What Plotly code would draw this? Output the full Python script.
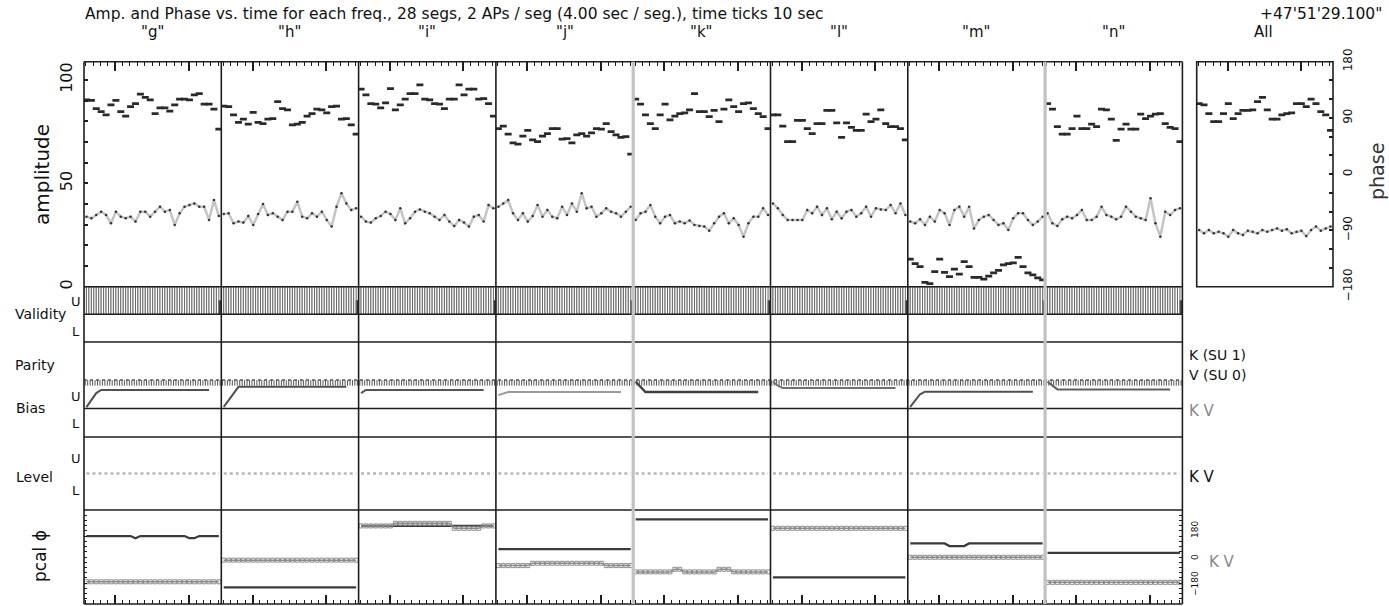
import plotly.graph_objects as go

W, H = 1389, 606
FONT = "DejaVu Sans"

# ---------------- data ----------------
CHANNELS = ['"g"', '"h"', '"i"', '"j"', '"k"', '"l"', '"m"', '"n"']
SEG_TIMES = [2, 6, 10, 14, 18, 22, 26, 30, 34, 38, 42, 46, 50, 54, 58, 62, 66, 70, 74, 78,
             82, 86, 90, 94, 98, 102, 106, 110]
AP_TIMES = [1, 3, 5, 7, 9, 11, 13, 15, 17, 19, 21, 23, 25, 27, 29, 31, 33, 35, 37, 39, 41, 43,
            45, 47, 49, 51, 53, 55, 57, 59, 61, 63, 65, 67, 69, 71, 73, 75, 77, 79, 81, 83, 85,
            87, 89, 91, 93, 95, 97, 99, 101, 103, 105, 107, 109, 111]

AMP_G = [33.9, 33.1, 34.7, 36.3, 34.7, 30.7, 36.3, 33.9, 33.1, 33.9, 31.5, 36.3, 36.3, 33.9,
         36.3, 38.7, 36.3, 37.1, 29.9, 35.5, 38.7, 39.5, 40.3, 38.7, 38.7, 32.3, 41.9, 34.2]
AMP_H = [35.2, 35.5, 30.7, 31.5, 31.0, 34.2, 29.9, 35.2, 40.0, 34.7, 35.5, 33.9, 32.3, 36.3,
         36.3, 41.1, 33.9, 33.1, 35.5, 33.9, 36.3, 32.3, 29.1, 38.7, 45.2, 40.3, 37.1, 37.9]
AMP_I = [33.9, 31.5, 31.0, 33.1, 34.2, 36.3, 35.2, 32.3, 37.9, 30.7, 33.1, 36.3, 37.4, 36.3,
         35.5, 33.9, 32.3, 34.7, 31.5, 29.4, 32.3, 31.0, 29.1, 33.9, 34.7, 31.5, 39.5, 37.9]
AMP_J = [38.7, 40.3, 41.9, 35.5, 32.3, 35.5, 31.5, 34.2, 39.5, 33.9, 37.1, 33.9, 33.1, 38.7,
         34.7, 40.3, 36.3, 45.2, 37.9, 38.7, 33.9, 35.5, 37.9, 36.3, 35.5, 33.9, 36.3, 38.7]
AMP_K = [32.3, 35.5, 36.3, 39.5, 33.9, 30.7, 33.9, 34.7, 30.7, 31.5, 30.7, 32.0, 29.9, 29.4,
         29.1, 27.1, 30.7, 33.9, 35.5, 30.7, 33.1, 29.9, 24.2, 30.7, 33.9, 33.9, 37.9, 34.7]
AMP_L = [40.3, 37.9, 34.7, 32.3, 32.3, 32.3, 32.3, 37.1, 35.5, 38.7, 34.7, 37.9, 32.6, 36.3,
         33.1, 36.3, 37.1, 33.9, 35.5, 38.7, 33.9, 37.9, 37.4, 37.1, 39.5, 35.5, 40.3, 34.7]
AMP_M = [31.5, 30.7, 32.6, 29.9, 33.9, 31.5, 37.1, 35.5, 29.9, 37.1, 38.7, 33.9, 38.7, 28.2,
         32.3, 33.9, 34.7, 32.3, 29.9, 30.7, 27.4, 33.1, 35.5, 35.5, 32.3, 29.9, 31.5, 33.9]
AMP_N = [35.5, 30.7, 29.4, 32.6, 33.9, 33.1, 34.7, 37.1, 32.3, 32.3, 33.9, 38.7, 34.7, 33.9,
         32.6, 33.9, 38.7, 36.3, 33.9, 33.1, 32.3, 42.8, 30.7, 24.2, 36.3, 34.7, 37.1, 37.9]
AMP_ALL = [27.4, 25.8, 27.4, 25.8, 26.6, 25.8, 24.2, 27.4, 25.8, 25.0, 27.1, 26.6, 25.8, 27.4,
           26.6, 27.4, 28.2, 27.1, 27.8, 25.8, 26.6, 27.1, 24.5, 27.4, 29.1, 27.1, 28.2, 29.1]

PHASE_G = [119, 118, 105, 100, 95, 111, 118, 100, 93, 108, 113, 128, 123, 119, 97, 106, 106,
           101, 111, 120, 120, 119, 127, 129, 112, 112, 104, 72]
PHASE_H = [109, 108, 95, 83, 88, 80, 99, 83, 81, 88, 89, 116, 105, 103, 79, 80, 83, 93, 97,
           104, 103, 98, 108, 109, 88, 89, 79, 64]
PHASE_I = [136, 127, 113, 112, 106, 114, 137, 103, 111, 120, 129, 129, 143, 120, 119, 113, 112,
           105, 120, 120, 143, 127, 136, 136, 120, 121, 113, 93]
PHASE_J = [73, 77, 64, 50, 48, 61, 70, 55, 52, 61, 65, 73, 73, 56, 57, 50, 63, 65, 61, 66, 73,
           72, 81, 68, 63, 59, 60, 32]
PHASE_K = [120, 112, 95, 81, 73, 95, 112, 87, 93, 97, 98, 103, 129, 100, 100, 92, 102, 84, 104,
           119, 108, 100, 113, 114, 105, 97, 92, 73]
PHASE_L = [95, 95, 77, 52, 52, 86, 86, 73, 65, 81, 81, 102, 102, 82, 59, 82, 75, 70, 70, 96, 84,
           88, 103, 81, 76, 76, 73, 55]
PHASE_M = [-136, -143, -148, -173, -175, -156, -136, -157, -164, -152, -160, -140, -148, -165,
           -165, -168, -163, -158, -154, -145, -143, -142, -133, -148, -158, -161, -166, -169]
PHASE_N = [113, 104, 76, 64, 64, 73, 93, 73, 73, 80, 76, 104, 103, 88, 54, 72, 80, 72, 72, 96,
           89, 93, 96, 97, 81, 75, 73, 52]
PHASE_ALL = [113, 111, 97, 84, 84, 97, 113, 89, 97, 102, 102, 103, 116, 123, 103, 88, 88, 95,
             97, 98, 113, 113, 108, 120, 113, 100, 95, 70]

# validity per AP (1 = valid, last AP partial)
VALIDITY = [1, 1, 1, 1, 1, 1, 1, 1, 1, 1, 1, 1, 1, 1, 1, 1, 1, 1, 1, 1, 1, 1, 1, 1, 1, 1, 1, 1,
            1, 1, 1, 1, 1, 1, 1, 1, 1, 1, 1, 1, 1, 1, 1, 1, 1, 1, 1, 1, 1, 1, 1, 1, 1, 1, 1, 0.5]

# bias (U = +1, L = -1)
BIAS_K = [0.9, 0.9, 0.9, 0.9, 0.9, 0.9, 0.9, 0.9, 0.9, 0.9, 0.9, 0.9, 0.9, 0.9, 0.9, 0.9, 0.9,
          0.9, 0.9, 0.9, 0.9, 0.9, 0.9, 0.9, 0.9, 0.9, 0.9, 0.9, 0.9, 0.9, 0.9, 0.9, 0.9, 0.9,
          0.9, 0.9, 0.9, 0.9, 0.9, 0.9, 0.9, 0.9, 0.9, 0.9, 0.9, 0.9, 0.9, 0.9, 0.9, 0.9, 0.9,
          0.9, 0.9, 0.9, 0.9, 0.9]
BIAS_V_G = [0.05, 0.30, 0.54, 0.65, 0.65, 0.65, 0.65, 0.65, 0.65, 0.65, 0.65, 0.65, 0.65, 0.65,
            0.65, 0.65, 0.65, 0.65, 0.65, 0.65, 0.65, 0.65, 0.65, 0.65, 0.65, 0.65, None, None]
BIAS_V_H = [0.06, 0.30, 0.55, 0.76, 0.76, 0.76, 0.76, 0.76, 0.76, 0.76, 0.76, 0.76, 0.76, 0.76,
            0.76, 0.76, 0.76, 0.76, 0.76, 0.76, 0.76, 0.76, 0.76, 0.76, 0.76, 0.76, None, None]
BIAS_V_I = [0.54, 0.65, 0.65, 0.65, 0.65, 0.65, 0.65, 0.65, 0.65, 0.65, 0.65, 0.65, 0.65, 0.65,
            0.65, 0.65, 0.65, 0.65, 0.65, 0.65, 0.65, 0.65, 0.65, 0.65, 0.65, 0.65, None, None]
BIAS_V_J = [0.47, 0.52, 0.58, 0.58, 0.58, 0.58, 0.58, 0.58, 0.58, 0.58, 0.58, 0.58, 0.58, 0.58,
            0.58, 0.58, 0.58, 0.58, 0.58, 0.58, 0.58, 0.58, 0.58, 0.58, 0.58, 0.58, None, None]
BIAS_V_K = [0.94, 0.75, 0.58, 0.58, 0.58, 0.58, 0.58, 0.58, 0.58, 0.58, 0.58, 0.58, 0.58, 0.58,
            0.58, 0.58, 0.58, 0.58, 0.58, 0.58, 0.58, 0.58, 0.58, 0.58, 0.58, 0.58, None, None]
BIAS_V_L = [0.94, 0.80, 0.72, 0.72, 0.72, 0.72, 0.72, 0.72, 0.72, 0.72, 0.72, 0.72, 0.72, 0.72,
            0.72, 0.72, 0.72, 0.72, 0.72, 0.72, 0.72, 0.72, 0.72, 0.72, 0.72, 0.72, None, None]
BIAS_V_M = [0.06, 0.30, 0.50, 0.59, 0.59, 0.59, 0.59, 0.59, 0.59, 0.59, 0.59, 0.59, 0.59, 0.59,
            0.59, 0.59, 0.59, 0.59, 0.59, 0.59, 0.59, 0.59, 0.59, 0.59, 0.59, 0.59, None, None]
BIAS_V_N = [0.94, 0.80, 0.67, 0.67, 0.67, 0.67, 0.67, 0.67, 0.67, 0.67, 0.67, 0.67, 0.67, 0.67,
            0.67, 0.67, 0.67, 0.67, 0.67, 0.67, 0.67, 0.67, 0.67, 0.67, 0.67, 0.67, None, None]

LEVEL = [0, 0, 0, 0, 0, 0, 0, 0, 0, 0, 0, 0, 0, 0, 0, 0, 0, 0, 0, 0, 0, 0, 0, 0, 0, 0, 0, 0]

# pcal phase (deg)
PCAL_K_G = [80, 80, 80, 80, 80, 80, 80, 80, 80, 80, 72, 80, 80, 80, 80, 80, 80, 80, 80, 80, 80,
            72, 72, 80, 80, 80, 80, 80]
PCAL_V_G = [-95, -95, -95, -95, -95, -95, -95, -95, -95, -95, -95, -95, -95, -95, -95, -95, -95,
            -95, -95, -95, -95, -95, -95, -95, -95, -95, -95, -95]
PCAL_K_H = [-116, -116, -116, -116, -116, -116, -116, -116, -116, -116, -116, -116, -116, -116,
            -116, -116, -116, -116, -116, -116, -116, -116, -116, -116, -116, -116, -116, -116]
PCAL_V_H = [-12, -12, -12, -12, -12, -12, -12, -12, -12, -12, -12, -12, -12, -12, -12, -12, -12,
            -12, -12, -12, -12, -12, -12, -12, -12, -12, -12, -12]
PCAL_K_I = [119, 119, 119, 119, 119, 119, 119, 119, 119, 119, 119, 119, 119, 119, 119, 119, 119,
            119, 119, 119, 119, 119, 119, 119, 119, 119, 119, 119]
PCAL_V_I = [119, 119, 119, 119, 119, 119, 119, 129, 129, 129, 129, 129, 129, 129, 129, 129, 129,
            129, 129, 110, 110, 110, 110, 110, 110, 119, 119, 119]
PCAL_K_J = [30, 30, 30, 30, 30, 30, 30, 30, 30, 30, 30, 30, 30, 30, 30, 30, 30, 30, 30, 30, 30,
            30, 30, 30, 30, 30, 30, 30]
PCAL_V_J = [-33, -33, -33, -33, -33, -33, -33, -24, -24, -24, -24, -24, -24, -24, -24, -24, -24,
            -24, -24, -24, -24, -24, -33, -33, -33, -33, -33, -33]
PCAL_K_K = [144, 144, 144, 144, 144, 144, 144, 144, 144, 144, 144, 144, 144, 144, 144, 144, 144,
            144, 144, 144, 144, 144, 144, 144, 144, 144, 144, 144]
PCAL_V_K = [-57, -57, -57, -57, -57, -57, -57, -57, -47, -47, -57, -57, -57, -57, -57, -57, -57,
            -47, -47, -47, -57, -57, -57, -57, -57, -57, -57, -57]
PCAL_K_L = [-78, -78, -78, -78, -78, -78, -78, -78, -78, -78, -78, -78, -78, -78, -78, -78, -78,
            -78, -78, -78, -78, -78, -78, -78, -78, -78, -78, -78]
PCAL_V_L = [110, 110, 110, 110, 110, 110, 110, 110, 110, 110, 110, 110, 110, 110, 110, 110, 110,
            110, 110, 110, 110, 110, 110, 110, 110, 110, 110, 110]
PCAL_K_M = [52, 52, 52, 52, 52, 52, 52, 52, 42, 42, 42, 42, 52, 52, 52, 52, 52, 52, 52, 52, 52,
            52, 52, 52, 52, 52, 52, 52]
PCAL_V_M = [-1, -1, -1, -1, -1, -1, -1, -1, -1, -1, -1, -1, -1, -1, -1, -1, -1, -1, -1, -1, -1,
            -1, -1, -1, -1, -1, -1, -1]
PCAL_K_N = [16, 16, 16, 16, 16, 16, 16, 16, 16, 16, 16, 16, 16, 16, 16, 16, 16, 16, 16, 16, 16,
            16, 16, 16, 16, 16, 16, 16]
PCAL_V_N = [-97, -97, -97, -97, -97, -97, -97, -97, -97, -97, -97, -97, -97, -97, -97, -97, -97,
            -97, -97, -97, -97, -97, -97, -97, -97, -97, -97, -97]

AMP = [AMP_G, AMP_H, AMP_I, AMP_J, AMP_K, AMP_L, AMP_M, AMP_N]
PHASE = [PHASE_G, PHASE_H, PHASE_I, PHASE_J, PHASE_K, PHASE_L, PHASE_M, PHASE_N]
BIAS_V = [BIAS_V_G, BIAS_V_H, BIAS_V_I, BIAS_V_J, BIAS_V_K, BIAS_V_L, BIAS_V_M, BIAS_V_N]
PCAL_K = [PCAL_K_G, PCAL_K_H, PCAL_K_I, PCAL_K_J, PCAL_K_K, PCAL_K_L, PCAL_K_M, PCAL_K_N]
PCAL_V = [PCAL_V_G, PCAL_V_H, PCAL_V_I, PCAL_V_J, PCAL_V_K, PCAL_V_L, PCAL_V_M, PCAL_V_N]

TITLE = ("Amp. and Phase vs. time for each freq., 28 segs, 2 APs / seg (4.00 sec / seg.), "
         "time ticks 10 sec")
SOURCE = "+47'51'29.100\""

# ---------------- layout geometry (pixels) ----------------
X0, CW = 84.0, 137.3
ALL_X = (1196.7, 1333.0)
Y_AMP = (61.7, 286.7)
Y_VAL = (286.7, 342.0)
Y_BIAS = (380.0, 437.0)
Y_LEV = (437.0, 510.0)
Y_PCAL = (510.0, 604.0)
BIAS_COL = ['#505050', '#505050', '#555555', '#9a9a9a', '#404040', '#707070', '#505050', '#606060']
DARK = '#1e1e1e'


def dx(a, b):
    return [a / W, b / W]


def dy(a, b):
    return [1 - b / H, 1 - a / H]


def xn(n):
    return 'x' if n == 1 else f'x{n}'


def xk(n):
    return 'xaxis' if n == 1 else f'xaxis{n}'


fig = go.Figure()

for c in range(8):
    xa, xb = xn(c + 1), xn(c + 9)
    fig.add_trace(go.Scatter(x=SEG_TIMES, y=AMP[c], xaxis=xa, yaxis='y', mode='lines+markers',
                             line=dict(color='#c4c4c4', width=2.5),
                             marker=dict(size=2.5, color='#333')))
    fig.add_trace(go.Scatter(x=SEG_TIMES, y=PHASE[c], xaxis=xa, yaxis='y2', mode='markers',
                             marker=dict(symbol='line-ew', size=5,
                                         line=dict(width=2.8, color='#2a2a2a'))))
    fig.add_trace(go.Bar(x=AP_TIMES, y=VALIDITY, base=0, width=2, xaxis=xa, yaxis='y3',
                         marker=dict(color=['white' if v >= 1 else '#333' for v in VALIDITY],
                                     line=dict(color='#6a6a6a', width=1))))
    fig.add_trace(go.Scatter(x=AP_TIMES, y=BIAS_K, xaxis=xa, yaxis='y4', mode='markers',
                             marker=dict(symbol='line-ns', size=4,
                                         line=dict(width=1, color='#555'))))
    fig.add_trace(go.Scatter(x=SEG_TIMES, y=BIAS_V[c], xaxis=xa, yaxis='y4', mode='lines',
                             line=dict(color=BIAS_COL[c], width=2.4 if c == 4 else 2)))
    fig.add_trace(go.Scatter(x=SEG_TIMES, y=LEVEL, xaxis=xa, yaxis='y5', mode='lines',
                             line=dict(color='#b8b8b8', width=2.5, dash='dot')))
    fig.add_trace(go.Scatter(x=SEG_TIMES, y=PCAL_K[c], xaxis=xb, yaxis='y6', mode='lines',
                             line=dict(color='#3a3a3a', width=2.2)))
    fig.add_trace(go.Scatter(x=SEG_TIMES, y=PCAL_V[c], xaxis=xb, yaxis='y7' if c == 7 else 'y6',
                             mode='lines+markers', line=dict(color='#8c8c8c', width=1.5),
                             marker=dict(symbol='square-open', size=4,
                                         line=dict(width=1, color='#6a6a6a'))))

fig.add_trace(go.Scatter(x=SEG_TIMES, y=AMP_ALL, xaxis='x17', yaxis='y', mode='lines+markers',
                         line=dict(color='#c4c4c4', width=2.5),
                         marker=dict(size=2.5, color='#333')))
fig.add_trace(go.Scatter(x=SEG_TIMES, y=PHASE_ALL, xaxis='x17', yaxis='y2', mode='markers',
                         marker=dict(symbol='line-ew', size=5,
                                     line=dict(width=2.8, color='#2a2a2a'))))

time_ticks = dict(range=[0, 112], showgrid=False, zeroline=False, showline=False,
                  showticklabels=False, ticks='inside', tickmode='linear', tick0=25.5, dtick=60,
                  ticklen=9, tickwidth=1.5, tickcolor=DARK, automargin=False,
                  minor=dict(ticks='inside', ticklen=4, tick0=1.5, dtick=6, tickwidth=1,
                             tickcolor=DARK, showgrid=False))

layout = dict(width=W, height=H,
              margin=dict(l=0, r=0, t=0, b=0, pad=0, autoexpand=False), showlegend=False,
              autosize=False, paper_bgcolor='white', plot_bgcolor='rgba(0,0,0,0)',
              barmode='overlay', font=dict(family=FONT, color='#111'))

for c in range(8):
    a = X0 + c * CW
    layout[xk(c + 1)] = dict(time_ticks, domain=dx(a, a + CW), anchor='y', side='top')
    layout[xk(c + 9)] = dict(time_ticks, domain=dx(a, a + CW), anchor='y6', side='bottom')
layout[xk(17)] = dict(time_ticks, domain=dx(*ALL_X), anchor='y', side='top')

hidden = dict(showgrid=False, zeroline=False, showline=False, showticklabels=False, ticks='',
              automargin=False)

layout['yaxis'] = dict(domain=dy(*Y_AMP), range=[0, 108.85], anchor='x', side='left',
                       showgrid=False, zeroline=False, showline=False, automargin=False,
                       tickmode='array', tickvals=[0, 10, 20, 30, 40, 50, 60, 70, 80, 90, 100],
                       ticktext=['0', '', '', '', '', '50', '', '', '', '', '100'],
                       ticks='inside', ticklen=4, tickwidth=1.5, tickcolor=DARK, tickangle=-90,
                       tickfont=dict(family=FONT, size=16, color='#111'), ticklabelstandoff=8)
layout['yaxis2'] = dict(overlaying='y', range=[-180, 180], anchor='x17', side='right',
                        showgrid=False, zeroline=False, showline=False, automargin=False,
                        tickmode='array',
                        tickvals=[-180, -150, -120, -90, -60, -30, 0, 30, 60, 90, 120, 150, 180],
                        ticktext=['\u2212180', '', '', '\u221290', '', '', '0', '', '', '90', '',
                                  '', '180'],
                        ticks='inside', ticklen=4, tickwidth=1.5, tickcolor=DARK, tickangle=-90,
                        tickfont=dict(family=FONT, size=12, color='#111'), ticklabelstandoff=6)
layout['yaxis3'] = dict(hidden, domain=dy(*Y_VAL), range=[-1, 1], anchor='x')
layout['yaxis4'] = dict(hidden, domain=dy(*Y_BIAS), range=[-1, 1], anchor='x')
layout['yaxis5'] = dict(hidden, domain=dy(*Y_LEV), range=[-1, 1], anchor='x')
pcal_ticks = dict(range=[-180, 180], showgrid=False, zeroline=False, showline=False,
                  showticklabels=False, ticks='inside', tickmode='linear', tick0=-180, dtick=20,
                  ticklen=3, tickwidth=1, tickcolor=DARK, automargin=False)
layout['yaxis6'] = dict(pcal_ticks, domain=dy(*Y_PCAL), anchor='x9', side='left')
layout['yaxis7'] = dict(pcal_ticks, overlaying='y6', anchor='x16', side='right')

# ---------------- frames ----------------
shapes = []


def line(x0, y0, x1, y1, color=DARK, width=1.6, dash='solid'):
    shapes.append(dict(type='line', xref='paper', yref='paper', x0=x0 / W, x1=x1 / W,
                       y0=1 - y0 / H, y1=1 - y1 / H, layer='above',
                       line=dict(color=color, width=width, dash=dash)))


XR = X0 + 8 * CW
for yy in [Y_AMP[0], Y_AMP[1], 314.3, 342.0, 408.5, 437.0, 510.0, 604.0]:
    line(X0, yy, XR, yy)
line(X0, 380.0, XR, 380.0, color='#555', width=1.6, dash='dot')
for c in range(9):
    xx = X0 + c * CW
    if c in (4, 7):
        line(xx, Y_AMP[0], xx, 604.0, color='#c2c2c2', width=3.2)
    else:
        line(xx, Y_AMP[0], xx, 604.0)
shapes.append(dict(type='rect', xref='paper', yref='paper', x0=ALL_X[0] / W, x1=ALL_X[1] / W,
                   y0=1 - Y_AMP[1] / H, y1=1 - Y_AMP[0] / H, layer='above',
                   line=dict(color=DARK, width=1.6)))
layout['shapes'] = shapes

# ---------------- text ----------------
anns = []


def text(t, x, y, size=14, color='#111', xanchor='center', angle=0):
    anns.append(dict(text=t, x=x / W, y=1 - y / H, xref='paper', yref='paper', showarrow=False,
                     xanchor=xanchor, yanchor='middle', textangle=angle,
                     font=dict(family=FONT, size=size, color=color)))


text(TITLE, 83, 14, 15.5, xanchor='left')
text(SOURCE, 1384, 14, 15.5, xanchor='right')
for c, name in enumerate(CHANNELS):
    text(name, X0 + CW * (c + 0.5), 32, 15)
text('All', 1263, 32, 15)
text('amplitude', 42, 175, 20, angle=-90)
text('phase', 1377, 172, 19, color='#333', angle=-90)
text('Validity', 13, 314, 14, xanchor='left')
text('U', 76, 302, 13)
text('L', 76, 331, 13)
text('Parity', 13, 365, 14, xanchor='left')
text('Bias', 14, 408, 14, xanchor='left')
text('U', 76, 396, 13)
text('L', 76, 423, 13)
text('Level', 14, 477, 14, xanchor='left')
text('U', 76, 458, 13)
text('L', 76, 490, 13)
text('pcal \u03d5', 40, 556, 17, angle=-90)
text('K (SU 1)', 1187, 355, 14, xanchor='left')
text('V (SU 0)', 1187, 375, 14, xanchor='left')
text('K V', 1187, 411, 15, color='#888', xanchor='left')
text('K V', 1187, 477, 15, xanchor='left')
text('K V', 1207, 562, 15, color='#888', xanchor='left')
text('180', 1195, 530, 9, angle=-90)
text('0', 1195, 557, 9, angle=-90)
text('\u2212180', 1195, 584, 9, angle=-90)
layout['annotations'] = anns

fig.update_layout(**layout)
fig.write_html("out.html", config={'displayModeBar': False},
               post_script="document.body.style.margin='0';"
                           "document.body.style.padding='0';"
                           "document.body.style.overflow='hidden';")
